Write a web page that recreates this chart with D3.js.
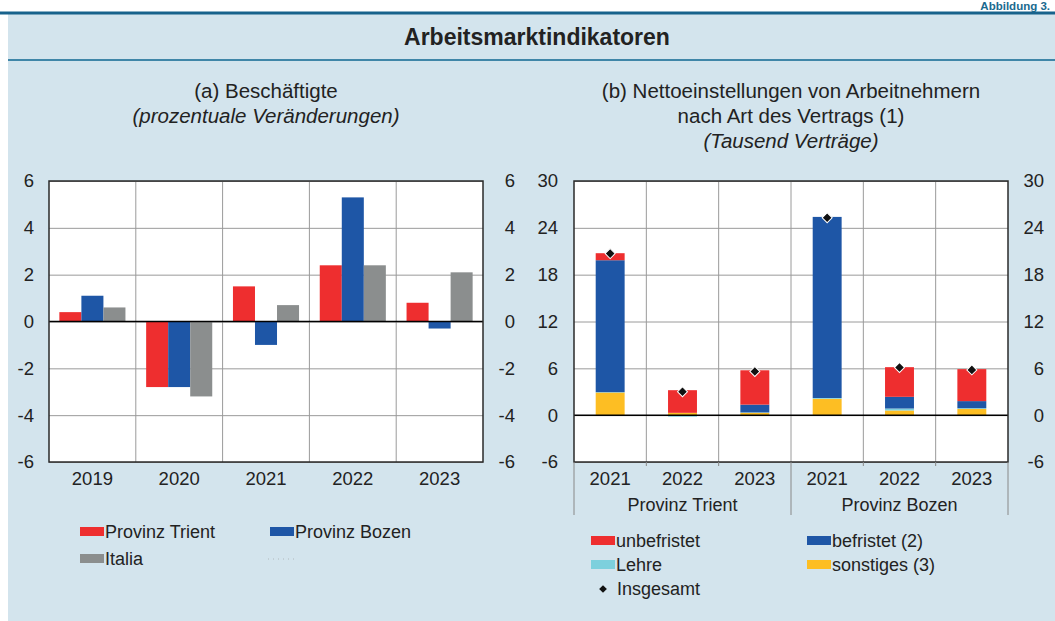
<!DOCTYPE html>
<html>
<head>
<meta charset="utf-8">
<script src="https://cdn.jsdelivr.net/npm/d3@7"></script>
<style>
  body { margin: 0; background: #fff; }
  svg { font-family: "Liberation Sans", Arial, sans-serif; }
  .grid line { stroke: #9a9a9a; stroke-width: 1; }
  .grid path { display: none; }
  .ticks path, .ticks line { display: none; }
  .ticks text { font-size: 18.5px; fill: #222; }
</style>
</head>
<body>
<div id="chart"></div>
<script>
// Setting up constant variables
const FRAME_WIDTH = 1055;
const FRAME_HEIGHT = 621;

// panel (a) data
const YEARS_A = ["2019", "2020", "2021", "2022", "2023"];
const SERIES_A = ["Provinz Trient", "Provinz Bozen", "Italia"];
const TRIENT_A = [0.4, -2.8, 1.5, 2.4, 0.8];
const BOZEN_A = [1.1, -2.8, -1.0, 5.3, -0.3];
const ITALIA_A = [0.6, -3.2, 0.7, 2.4, 2.1];
const TICKS_A = [-6, -4, -2, 0, 2, 4, 6];

// panel (b) data
const YEARS_B = ["2021", "2022", "2023", "2021", "2022", "2023"];
const PROVINCES_B = ["Provinz Trient", "Provinz Bozen"];
const UNBEFRISTET = [0.9, 2.9, 4.4, -0.1, 3.8, 4.1];
const BEFRISTET = [16.9, 0.0, 1.0, 23.2, 1.5, 0.9];
const LEHRE = [0.05, -0.2, 0.05, 0.1, 0.25, 0.1];
const SONSTIGES = [2.9, 0.3, 0.3, 2.1, 0.6, 0.8];
const INSGESAMT = [20.7, 3.0, 5.6, 25.3, 6.1, 5.8];
const TICKS_B = [-6, 0, 6, 12, 18, 24, 30];

const COLORS = {red: "#ee2e2f", blue: "#1e56a6", gray: "#8b8e8e",
                cyan: "#7dd0dd", yellow: "#fdbe23"};
const BG = "#d3e4ed";
const TEXT = "#222";
const FMT = d => String(d); // plain hyphen minus like the original

const SVG = d3.select("#chart").append("svg")
    .attr("width", FRAME_WIDTH)
    .attr("height", FRAME_HEIGHT);

// header
SVG.append("rect").attr("x", 8).attr("y", 12).attr("width", FRAME_WIDTH - 8)
    .attr("height", FRAME_HEIGHT - 12).attr("fill", BG);
SVG.append("line").attr("x1", 0).attr("x2", FRAME_WIDTH).attr("y1", 13).attr("y2", 13)
    .attr("stroke", "#17628c").attr("stroke-width", 3);
SVG.append("text").attr("x", 1050).attr("y", 10).attr("text-anchor", "end")
    .attr("font-size", 11.5).attr("font-weight", "bold").attr("fill", "#1a6a8f")
    .text("Abbildung 3.");
SVG.append("text").attr("x", 537).attr("y", 45).attr("text-anchor", "middle")
    .attr("font-size", 23).attr("font-weight", "bold").attr("fill", TEXT)
    .text("Arbeitsmarktindikatoren");
SVG.append("line").attr("x1", 8).attr("x2", FRAME_WIDTH).attr("y1", 60).attr("y2", 60)
    .attr("stroke", "#3f86a8").attr("stroke-width", 2);

function subtitle(cx, lines) {
    lines.forEach((l, i) => {
        SVG.append("text").attr("x", cx).attr("y", 98 + i * 25)
            .attr("text-anchor", "middle").attr("font-size", 20.5).attr("fill", TEXT)
            .attr("font-style", l.italic ? "italic" : "normal").text(l.t);
    });
}
subtitle(266, [{t: "(a) Beschäftigte"}, {t: "(prozentuale Veränderungen)", italic: true}]);
subtitle(791, [{t: "(b) Nettoeinstellungen von Arbeitnehmern"}, {t: "nach Art des Vertrags (1)"},
               {t: "(Tausend Verträge)", italic: true}]);

const TOP = 181, BOTTOM = 462;

function frame(x0, x1, yScale, ticks, leftLabelX, rightLabelX, cats) {
    const g = SVG.append("g");
    g.append("rect").attr("x", x0).attr("y", TOP).attr("width", x1 - x0)
        .attr("height", BOTTOM - TOP).attr("fill", "#fff");
    // horizontal grid
    g.append("g").attr("class", "grid").attr("transform", "translate(" + x0 + ",0)")
        .call(d3.axisLeft(yScale).tickValues(ticks).tickSize(-(x1 - x0)).tickFormat(""));
    // vertical grid
    g.selectAll(".vgrid").data(cats.domain().slice(1)).enter().append("line")
        .attr("x1", d => cats(d)).attr("x2", d => cats(d))
        .attr("y1", TOP).attr("y2", BOTTOM).attr("stroke", "#9a9a9a");
    // left labels
    g.append("g").attr("class", "ticks").attr("transform", "translate(" + leftLabelX + ",0)")
        .call(d3.axisLeft(yScale).tickValues(ticks).tickSize(0).tickPadding(0).tickFormat(FMT));
    // right labels
    g.append("g").attr("class", "ticks").attr("transform", "translate(" + rightLabelX + ",0)")
        .call(d3.axisLeft(yScale).tickValues(ticks).tickSize(0).tickPadding(0).tickFormat(FMT));
    return g;
}

function outline(g, x0, x1, yScale) {
    g.append("line").attr("x1", x0).attr("x2", x1).attr("y1", yScale(0)).attr("y2", yScale(0))
        .attr("stroke", "#000").attr("stroke-width", 1.5);
    g.append("rect").attr("x", x0).attr("y", TOP).attr("width", x1 - x0)
        .attr("height", BOTTOM - TOP).attr("fill", "none")
        .attr("stroke", "#2a2a2a").attr("stroke-width", 1.5);
}

// ---------- panel (a) ----------
const AX0 = 49, AX1 = 483;
const Y_A = d3.scaleLinear().domain([-6, 6]).range([BOTTOM, TOP]);
const X_A = d3.scaleBand().domain(YEARS_A).range([AX0, AX1]);
const X_A_INNER = d3.scaleBand().domain(SERIES_A).range([0, X_A.bandwidth()]).paddingOuter(0.47);
const DATA_A = YEARS_A.map((y, i) => ({year: y, vals: [TRIENT_A[i], BOZEN_A[i], ITALIA_A[i]]}));
const COL_A = [COLORS.red, COLORS.blue, COLORS.gray];

const GA = frame(AX0, AX1, Y_A, TICKS_A, 34, 515, X_A);
GA.selectAll(".grp").data(DATA_A).enter().append("g")
    .attr("transform", d => "translate(" + X_A(d.year) + ",0)")
    .selectAll("rect").data(d => d.vals.map((v, k) => ({v: v, k: k}))).enter().append("rect")
        .attr("x", d => X_A_INNER(SERIES_A[d.k]))
        .attr("width", X_A_INNER.bandwidth())
        .attr("y", d => Y_A(Math.max(0, d.v)))
        .attr("height", d => Math.abs(Y_A(d.v) - Y_A(0)))
        .attr("fill", d => COL_A[d.k]);
outline(GA, AX0, AX1, Y_A);
GA.selectAll(".xl").data(YEARS_A).enter().append("text")
    .attr("x", d => X_A(d) + X_A.bandwidth() / 2).attr("y", 485)
    .attr("text-anchor", "middle").attr("font-size", 18.5).attr("fill", TEXT).text(d => d);

// ---------- panel (b) ----------
const BX0 = 574, BX1 = 1008;
const IDX = d3.range(YEARS_B.length);
const Y_B = d3.scaleLinear().domain([-6, 30]).range([BOTTOM, TOP]);
const X_B = d3.scaleBand().domain(IDX).range([BX0, BX1]);
const X_B_BAR = d3.scaleBand().domain(IDX).range([BX0, BX1]).paddingInner(0.6).paddingOuter(0.3);

const GB = frame(BX0, BX1, Y_B, TICKS_B, 558, 1044, X_B);
const KEYS = ["sonstiges", "lehre", "befristet", "unbefristet"];
const KEY_COL = {sonstiges: COLORS.yellow, lehre: COLORS.cyan, befristet: COLORS.blue, unbefristet: COLORS.red};
const TABLE_B = IDX.map(i => ({i: i, sonstiges: SONSTIGES[i], lehre: LEHRE[i],
                               befristet: BEFRISTET[i], unbefristet: UNBEFRISTET[i]}));
const STACK = d3.stack().keys(KEYS).offset(d3.stackOffsetDiverging)(TABLE_B);

GB.selectAll(".layer").data(STACK).enter().append("g")
    .attr("fill", d => KEY_COL[d.key])
    .selectAll("rect").data(d => d).enter().append("rect")
        .attr("x", d => X_B_BAR(d.data.i))
        .attr("width", X_B_BAR.bandwidth())
        .attr("y", d => Y_B(d[1]))
        .attr("height", d => Math.abs(Y_B(d[0]) - Y_B(d[1])));
outline(GB, BX0, BX1, Y_B);

const DIAMOND = d3.symbol(d3.symbolSquare, 50);
GB.selectAll(".tot").data(IDX).enter().append("path")
    .attr("d", DIAMOND)
    .attr("transform", i => "translate(" + (X_B_BAR(i) + X_B_BAR.bandwidth() / 2) + "," + Y_B(INSGESAMT[i]) + ") rotate(45)")
    .attr("fill", "#111").attr("stroke", "#fff").attr("stroke-width", 1);

// category axis
GB.selectAll(".xl").data(IDX).enter().append("text")
    .attr("x", i => X_B(i) + X_B.bandwidth() / 2).attr("y", 485)
    .attr("text-anchor", "middle").attr("font-size", 18.5).attr("fill", TEXT).text(i => YEARS_B[i]);
GB.selectAll(".tk").data(IDX.slice(1)).enter().append("line")
    .attr("x1", i => X_B(i)).attr("x2", i => X_B(i))
    .attr("y1", BOTTOM).attr("y2", i => i % 3 === 0 ? 515 : 466)
    .attr("stroke", "#888");
GB.selectAll(".edge").data([BX0, BX1]).enter().append("line")
    .attr("x1", d => d).attr("x2", d => d).attr("y1", BOTTOM).attr("y2", 515)
    .attr("stroke", "#888");
GB.selectAll(".prov").data(PROVINCES_B).enter().append("text")
    .attr("x", (d, k) => X_B(k * 3) + 1.5 * X_B.bandwidth()).attr("y", 511)
    .attr("text-anchor", "middle").attr("font-size", 18).attr("fill", TEXT).text(d => d);

// ---------- legends ----------
function swatch(x, y, col, label) {
    SVG.append("rect").attr("x", x).attr("y", y).attr("width", 24).attr("height", 9).attr("fill", col);
    SVG.append("text").attr("x", x + 25).attr("y", y + 10.5).attr("font-size", 18)
        .attr("fill", TEXT).text(label);
}
swatch(80, 527, COLORS.red, SERIES_A[0]);
swatch(270, 527, COLORS.blue, SERIES_A[1]);
swatch(80, 554, COLORS.gray, SERIES_A[2]);
SVG.append("line").attr("x1", 268).attr("x2", 294).attr("y1", 559).attr("y2", 559)
    .attr("stroke", "#b0b8bc").attr("stroke-dasharray", "1,4");

swatch(591, 536, COLORS.red, "unbefristet");
swatch(807, 536, COLORS.blue, "befristet (2)");
swatch(591, 560, COLORS.cyan, "Lehre");
swatch(807, 560, COLORS.yellow, "sonstiges (3)");
SVG.append("path").attr("d", d3.symbol(d3.symbolSquare, 30))
    .attr("transform", "translate(603,589) rotate(45)").attr("fill", "#111");
SVG.append("text").attr("x", 617).attr("y", 595).attr("font-size", 18).attr("fill", TEXT).text("Insgesamt");
</script>
</body>
</html>
